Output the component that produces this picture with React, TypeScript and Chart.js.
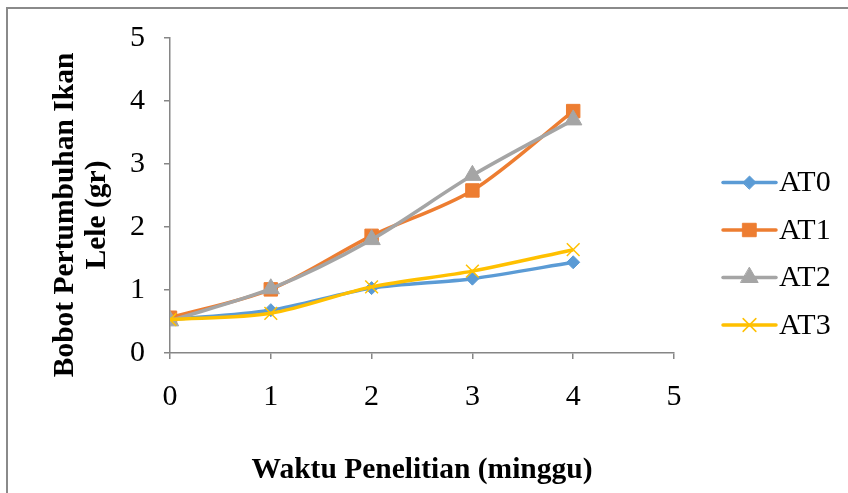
import React, { useEffect, useRef } from 'react';
import { Chart, registerables } from 'chart.js';
import { drawPoint } from 'chart.js/helpers';

Chart.register(...registerables);

const weeks = [0, 1, 2, 3, 4];
const seriesNames = ['AT0', 'AT1', 'AT2', 'AT3'];
const at0 = [0.53, 0.68, 1.03, 1.18, 1.44];
const at1 = [0.56, 1.01, 1.86, 2.58, 3.84];
const at2 = [0.51, 1.02, 1.8, 2.82, 3.7];
const at3 = [0.53, 0.63, 1.05, 1.3, 1.64];
const xTicks = [0, 1, 2, 3, 4, 5];
const yTicks = [0, 1, 2, 3, 4, 5];
const xTitle = 'Waktu Penelitian (minggu)';
const yTitleLines = ['Bobot Pertumbuhan Ikan', 'Lele (gr)'];

const FONT = "'Liberation Serif', 'Times New Roman', serif";
const AXIS = '#868686';
const colors = ['#5B9BD5', '#ED7D31', '#A5A5A5', '#FFC000'];
const markers = ['rectRot', 'rect', 'triangle', 'crossRot'];
const radii = [6.5, 9.5, 10, 9];
const seriesValues = [at0, at1, at2, at3];

const sideLegend = {
  id: 'sideLegend',
  afterDraw(chart: any) {
    const ctx = chart.ctx;
    chart.data.datasets.forEach((ds: any, i: number) => {
      const y = 182.5 + i * 47.5;
      ctx.save();
      ctx.strokeStyle = ds.borderColor;
      ctx.lineWidth = 3.5;
      ctx.lineCap = 'round';
      ctx.beginPath();
      ctx.moveTo(723, y);
      ctx.lineTo(776, y);
      ctx.stroke();
      ctx.fillStyle = ds.pointBackgroundColor;
      ctx.strokeStyle = ds.pointBorderColor;
      ctx.lineWidth = ds.pointBorderWidth;
      drawPoint(ctx, { pointStyle: ds.pointStyle, radius: ds.pointRadius, borderWidth: ds.pointBorderWidth, rotation: 0 } as any, 749.5, y);
      ctx.fillStyle = '#000';
      ctx.font = `30px ${FONT}`;
      ctx.textAlign = 'left';
      ctx.textBaseline = 'middle';
      ctx.fillText(ds.label, 779, y + 1);
      ctx.restore();
    });
  },
};

const yTitlePlugin = {
  id: 'yTitle',
  afterDraw(chart: any) {
    const ctx = chart.ctx;
    ctx.save();
    ctx.fillStyle = '#000';
    ctx.font = `bold 29.5px ${FONT}`;
    ctx.textAlign = 'center';
    ctx.textBaseline = 'middle';
    const xs = [65, 97];
    yTitleLines.forEach((line, i) => {
      ctx.save();
      ctx.translate(xs[i], 215);
      ctx.rotate(-Math.PI / 2);
      ctx.fillText(line, 0, 0);
      ctx.restore();
    });
    ctx.restore();
  },
};

export default function App() {
  const ref = useRef<HTMLCanvasElement>(null);

  useEffect(() => {
    if (!ref.current) return;
    const datasets = seriesNames.map((name, i) => ({
      label: name,
      data: weeks.map((w, j) => ({ x: w, y: seriesValues[i][j] })),
      borderColor: colors[i],
      backgroundColor: colors[i],
      borderWidth: 3.5,
      pointStyle: markers[i],
      pointRadius: radii[i],
      pointBackgroundColor: colors[i],
      pointBorderColor: colors[i],
      pointBorderWidth: i === 3 ? 1.5 : 1,
      tension: 0.3,
      order: 4 - i,
      showLine: true,
    }));
    const chart = new Chart(ref.current, {
      type: 'scatter',
      data: { datasets },
      plugins: [sideLegend, yTitlePlugin],
      options: {
        animation: false,
        responsive: false,
        layout: { padding: { left: 0, top: 38, right: 174, bottom: 0 } },
        plugins: { legend: { display: false }, tooltip: { enabled: false } },
        scales: {
          x: {
            type: 'linear',
            min: xTicks[0],
            max: xTicks[xTicks.length - 1],
            afterBuildTicks: (s: any) => { s.ticks = xTicks.map((v) => ({ value: v })); },
            ticks: { color: '#000', font: { family: FONT, size: 30 }, padding: 20, maxRotation: 0 },
            grid: { display: true, drawOnChartArea: false, drawTicks: true, tickLength: 6, color: AXIS, lineWidth: 1.5 },
            border: { display: true, color: AXIS, width: 1.5 },
            title: { display: true, text: xTitle, color: '#000', font: { family: FONT, size: 29.5, weight: 'bold' }, padding: { top: 0, bottom: 5 } },
            afterFit: (s: any) => { s.height = 140; },
          },
          y: {
            type: 'linear',
            min: yTicks[0],
            max: yTicks[yTicks.length - 1],
            afterBuildTicks: (s: any) => { s.ticks = yTicks.map((v) => ({ value: v })); },
            ticks: { color: '#000', font: { family: FONT, size: 30 }, padding: 19 },
            grid: { display: true, drawOnChartArea: false, drawTicks: true, tickLength: 6, color: AXIS, lineWidth: 1.5 },
            border: { display: true, color: AXIS, width: 1.5 },
            afterFit: (s: any) => { s.width = 170; },
          },
        },
      } as any,
    });
    return () => chart.destroy();
  }, []);

  return (
    <div style={{ position: 'absolute', left: 0, top: 0, width: 848, height: 493, overflow: 'hidden', background: '#fff' }}>
      <div style={{ position: 'absolute', left: 6, top: 7, width: 900, height: 600, border: '2px solid #8a8a8a', boxSizing: 'border-box' }} />
      <canvas ref={ref} width={848} height={493} style={{ position: 'absolute', left: 0, top: 0, width: 848, height: 493 }} />
    </div>
  );
}
